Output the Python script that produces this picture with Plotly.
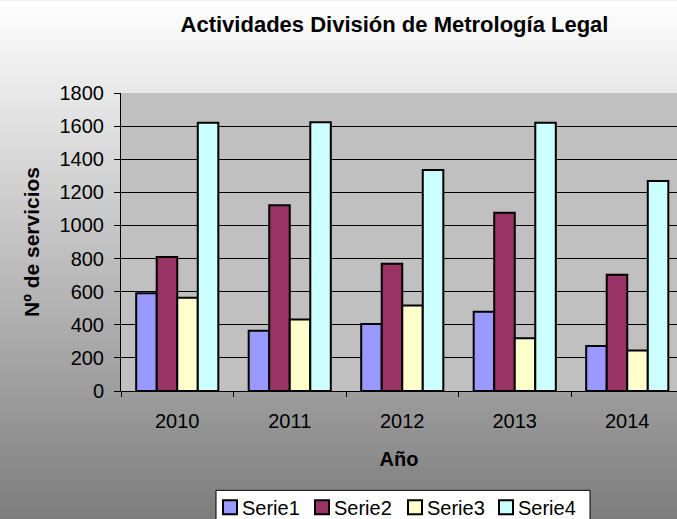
import plotly.graph_objects as go

years = ["2010", "2011", "2012", "2013", "2014"]
serie1 = [590, 364, 404, 479, 272]
serie2 = [810, 1122, 768, 1076, 702]
serie3 = [563, 432, 517, 318, 245]
serie4 = [1620, 1623, 1335, 1621, 1269]
series_names = ["Serie1", "Serie2", "Serie3", "Serie4"]
series_colors = ["#9999FF", "#993366", "#FFFFCC", "#CCFFFF"]

W, H = 677, 519
ML, MR, MT, MB = 121, 0, 93, 127.5
plot_w = W - ML - MR
plot_h = H - MT - MB


def px_x(px):
    return (px - ML) / plot_w


def px_y(py):
    return (H - MB - py) / plot_h


fig = go.Figure()
for name, vals, col in zip(series_names, [serie1, serie2, serie3, serie4], series_colors):
    fig.add_trace(go.Bar(
        x=years, y=vals, name=name, showlegend=False,
        marker=dict(color=col, line=dict(color="black", width=2)),
    ))

# vertical gradient background (white -> gray) built from thin paper strips
shapes = []
step = 3
for py in range(0, H, step):
    t = (py + step / 2) / H
    c = int(round(255 - 130 * t))
    shapes.append(dict(type="rect", xref="paper", yref="paper",
                       x0=-0.5, x1=1.5, y0=px_y(py + step + 1), y1=px_y(py),
                       fillcolor=f"rgb({c},{c},{c})", line=dict(width=0),
                       layer="below"))
# plot area background
shapes.append(dict(type="rect", xref="paper", yref="paper", x0=0, x1=1, y0=0, y1=1,
                   fillcolor="#C0C0C0", line=dict(width=0), layer="below"))

# legend (box, swatches, labels)
font_fam = "Liberation Sans, Arial, sans-serif"
shapes.append(dict(type="rect", xref="paper", yref="paper",
                   x0=px_x(216), x1=px_x(590), y0=px_y(530), y1=px_y(491),
                   fillcolor="white", line=dict(color="black", width=1),
                   layer="below"))
annotations = []
swatch_left = [223, 315, 408, 499]
for name, col, sx in zip(series_names, series_colors, swatch_left):
    shapes.append(dict(type="rect", xref="paper", yref="paper",
                       x0=px_x(sx), x1=px_x(sx + 14), y0=px_y(515), y1=px_y(501),
                       fillcolor=col, line=dict(color="black", width=2),
                       layer="below"))
    annotations.append(dict(text=name, xref="paper", yref="paper",
                            x=px_x(sx + 18), y=px_y(508.5), xanchor="left",
                            yanchor="middle", showarrow=False, borderpad=0,
                            font=dict(family=font_fam, size=20, color="black")))

fig.update_layout(
    width=W, height=H,
    margin=dict(l=ML, r=MR, t=MT, b=MB, pad=0, autoexpand=False),
    paper_bgcolor="#C0C0C0",
    plot_bgcolor="#C0C0C0",
    shapes=shapes,
    annotations=annotations,
    barmode="group",
    bargap=0.27,
    bargroupgap=0,
    showlegend=False,
    font=dict(family=font_fam, size=20, color="black"),
    title=dict(text="<b>Actividades División de Metrología Legal</b>",
               font=dict(family=font_fam, size=22, color="black"),
               x=px_x(394.5), xref="paper", xanchor="center",
               y=1 - 24.5 / H, yanchor="middle"),
)
fig.update_xaxes(
    range=[-0.5, -0.5 + plot_w / 112.5],
    showline=True, linecolor="black", linewidth=1,
    ticks="outside", tickson="boundaries", ticklen=5, tickcolor="black",
    ticklabelstandoff=12,
    showgrid=False,
    title=dict(text="<b>Año</b>", font=dict(family=font_fam, size=20), standoff=20),
    automargin=False,
)
fig.update_yaxes(
    range=[0, 1800], dtick=200,
    showline=True, linecolor="black", linewidth=1,
    ticks="outside", ticklen=6, tickcolor="black",
    showgrid=True, gridcolor="black", gridwidth=1,
    zeroline=False,
    ticklabelstandoff=6,
    title=dict(text="<b>Nº de servicios</b>", font=dict(family=font_fam, size=21), standoff=14),
    automargin=False,
)

fig.write_html(
    "out.html",
    config={"displayModeBar": False},
    post_script="document.body.style.margin='0';document.body.style.overflow='hidden';"
                "document.documentElement.style.overflow='hidden';",
)
